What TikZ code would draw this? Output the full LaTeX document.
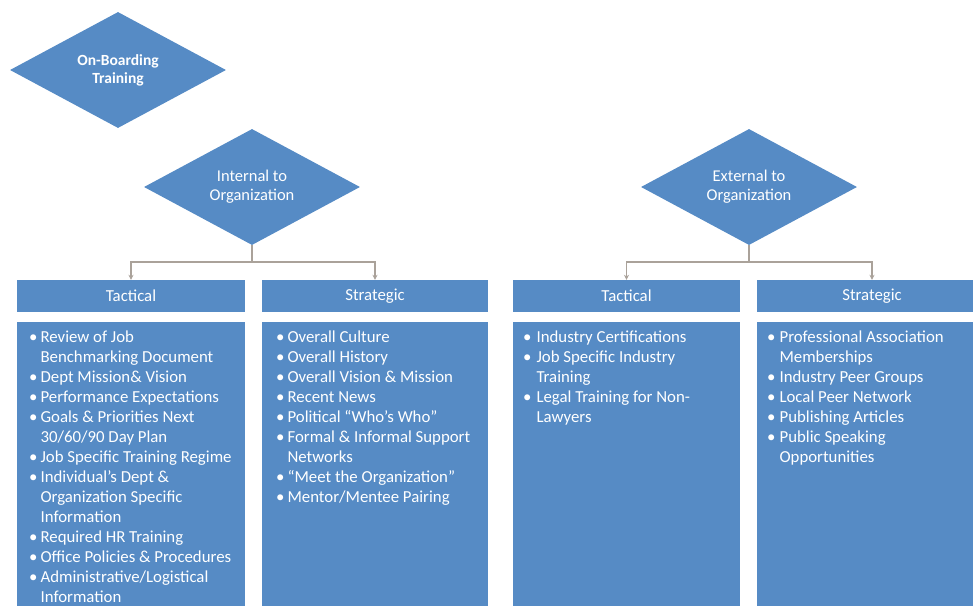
\documentclass[tikz,border=0pt]{standalone}
\usepackage{fontspec}
\setmainfont{Carlito}
\usetikzlibrary{shapes.geometric,arrows.meta}
\definecolor{boxblue}{RGB}{86,139,197}
\definecolor{linegray}{RGB}{170,162,154}
\newcommand{\bul}{\textbullet}
\begin{document}
\begin{tikzpicture}[x=1pt,y=-1pt,
  dia/.style={diamond, fill=boxblue, aspect=1.85, minimum width=216pt, minimum height=116pt, inner sep=0pt, text=white, align=center, font=\fontsize{16.5}{19}\selectfont},
  hdr/.style={fill=boxblue, minimum height=32pt, text=white, font=\fontsize{16.8}{18}\selectfont, inner sep=0pt},
  cbox/.style={fill=boxblue, minimum height=300pt, anchor=north, inner sep=0pt},
  lst/.style={anchor=north west, inner sep=0pt, text=white, align=left, font=\fontsize{16.8}{20}\selectfont},
  conn/.style={draw=linegray, line width=1.4pt, -{Stealth[length=5pt,width=5pt]}}
]
\useasboundingbox (0,0) rectangle (973,605);
\clip (0,0) rectangle (973,605);

\node[dia, font=\bfseries\fontsize{15.5}{18}\selectfont] (onb) at (118,70) {On-Boarding\\Training};
\node[dia] (int) at (252,187) {Internal to\\Organization};
\node[dia] (ext) at (749,187) {External to\\Organization};

\node[hdr, minimum width=228pt] (t1h) at (131,296) {Tactical};
\node[hdr, minimum width=226pt] (s1h) at (375,296) {Strategic};
\node[hdr, minimum width=227pt] (t2h) at (626.5,296) {Tactical};
\node[hdr, minimum width=230pt] (s2h) at (872,296) {Strategic};

\node[cbox, minimum width=228pt] (t1c) at (131,322) {};
\node[cbox, minimum width=226pt] (s1c) at (375,322) {};
\node[cbox, minimum width=227pt] (t2c) at (626.5,322) {};
\node[cbox, minimum width=230pt] (s2c) at (872,322) {};

\coordinate (intj) at (252,262);
\coordinate (extj) at (749,262);
\draw[conn] (int.south) -- (intj) -| (t1h.north);
\draw[conn] (intj) -| (s1h.north);
\draw[conn] (ext.south) -- (extj) -| (t2h.north);
\draw[conn] (extj) -| (s2h.north);

\node[lst] (t1l) at (29,328) {\begin{tabular}{@{}l@{\hspace{3pt}}l@{}}
\bul & Review of Job\\
 & Benchmarking Document\\
\bul & Dept Mission\& Vision\\
\bul & Performance Expectations\\
\bul & Goals \& Priorities Next\\
 & 30/60/90 Day Plan\\
\bul & Job Specific Training Regime\\
\bul & Individual's Dept \&\\
 & Organization Specific\\
 & Information\\
\bul & Required HR Training\\
\bul & Office Policies \& Procedures\\
\bul & Administrative/Logistical\\
 & Information
\end{tabular}};

\node[lst] (s1l) at (276,328) {\begin{tabular}{@{}l@{\hspace{3pt}}l@{}}
\bul & Overall Culture\\
\bul & Overall History\\
\bul & Overall Vision \& Mission\\
\bul & Recent News\\
\bul & Political “Who's Who”\\
\bul & Formal \& Informal Support\\
 & Networks\\
\bul & “Meet the Organization”\\
\bul & Mentor/Mentee Pairing
\end{tabular}};

\node[lst] (t2l) at (523,328) {\begin{tabular}{@{}l@{\hspace{5pt}}l@{}}
\bul & Industry Certifications\\
\bul & Job Specific Industry\\
 & Training\\
\bul & Legal Training for Non-\\
 & Lawyers
\end{tabular}};

\node[lst] (s2l) at (767,328) {\begin{tabular}{@{}l@{\hspace{4pt}}l@{}}
\bul & Professional Association\\
 & Memberships\\
\bul & Industry Peer Groups\\
\bul & Local Peer Network\\
\bul & Publishing Articles\\
\bul & Public Speaking\\
 & Opportunities
\end{tabular}};
\end{tikzpicture}
\end{document}
